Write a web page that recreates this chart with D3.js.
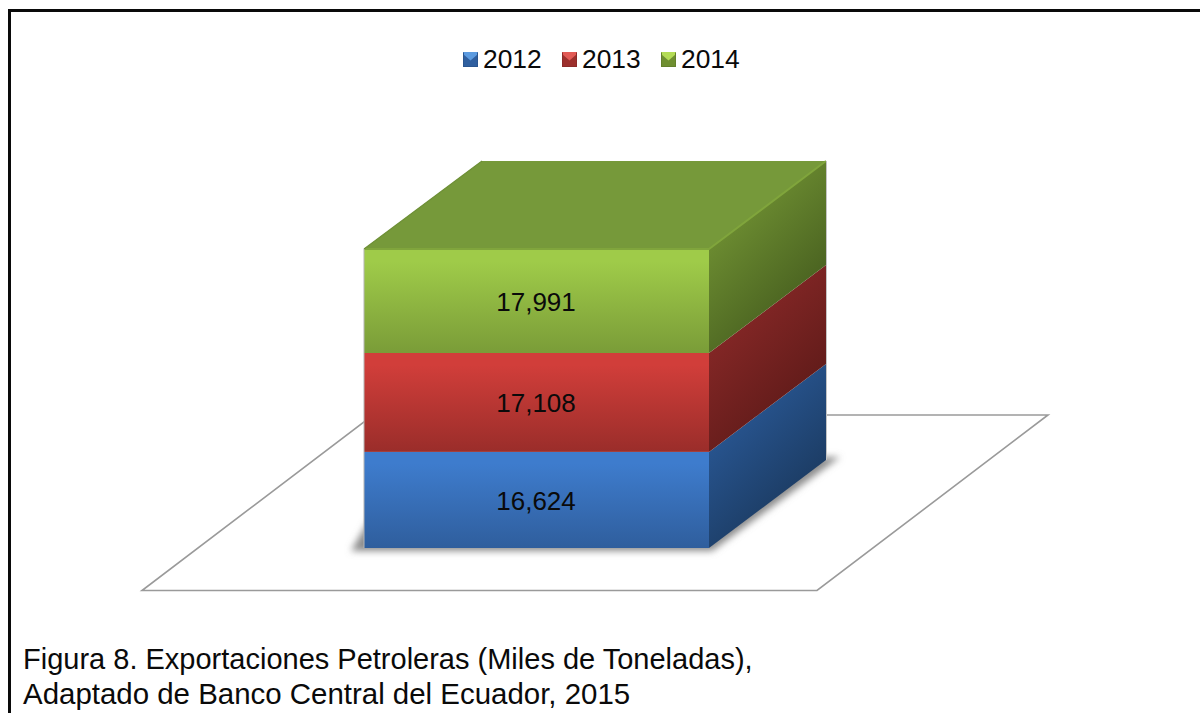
<!DOCTYPE html>
<html><head><meta charset="utf-8">
<script src="https://cdn.jsdelivr.net/npm/d3@7"></script>
<style>html,body{margin:0;padding:0;background:#fff}svg{display:block}text{font-family:"Liberation Sans",Arial,sans-serif;fill:#0a0a0a}</style>
</head><body><svg id="c" width="1200" height="713"></svg>
<script>
const categories = ["Exportaciones"];
const seriesNames = ["2012", "2013", "2014"];
const values2012 = [16624];
const values2013 = [17108];
const values2014 = [17991];
const captionLines = ["Figura 8. Exportaciones Petroleras (Miles de Toneladas),", "Adaptado de Banco Central del Ecuador, 2015"];
const captionSizes = [29, 29.45];
const frontColors = [["#3e7ccd", "#2f5e9d"], ["#d13e3a", "#9a2d2a"], ["#9fcb49", "#7a9c38"]];
const sideColors = [["#285590", "#193659"], ["#842726", "#5a1917"], ["#6c8c31", "#435a1d"]];
const topColor = "#76993a";
const swatchColors = [["#5c9be0", "#2f5f9f"], ["#e25a55", "#9c2f2c"], ["#b4dc55", "#6f8f30"]];

const rows = categories.map((c, i) => ({cat: c, 2012: values2012[i], 2013: values2013[i], 2014: values2014[i]}));
const stacked = d3.stack().keys(seriesNames)(rows);
const total = d3.max(stacked[stacked.length - 1], d => d[1]);

const x = d3.scaleBand().domain(categories).range([364, 709]).padding(0);
const y = d3.scaleLinear().domain([0, total]).range([548, 249]);
const dx = 117, dy = -88;

const svg = d3.select("#c");
const defs = svg.append("defs");
defs.append("filter").attr("id", "blur").attr("x", "-20%").attr("y", "-20%").attr("width", "140%").attr("height", "140%")
  .append("feGaussianBlur").attr("stdDeviation", 3.5);
seriesNames.forEach((s, i) => {
  const f = defs.append("linearGradient").attr("id", "front" + i).attr("x1", 0).attr("y1", 0).attr("x2", 0).attr("y2", 1);
  f.append("stop").attr("offset", "12%").attr("stop-color", frontColors[i][0]);
  f.append("stop").attr("offset", "100%").attr("stop-color", frontColors[i][1]);
  const g = defs.append("linearGradient").attr("id", "side" + i).attr("x1", 0.25).attr("y1", 0.1).attr("x2", 0.75).attr("y2", 0.9);
  g.append("stop").attr("offset", "15%").attr("stop-color", sideColors[i][0]);
  g.append("stop").attr("offset", "100%").attr("stop-color", sideColors[i][1]);
});

const pts = a => a.map(p => p.join(",")).join(" ");

// frame (left and top edges only)
svg.append("path").attr("d", "M9.5,713V10.5H1200").attr("fill", "none").attr("stroke", "#0a0a0a").attr("stroke-width", 3);

// floor
svg.append("polygon").attr("points", pts([[142, 590.5], [817, 590.5], [1048, 415], [373, 415]]))
  .attr("fill", "#fff").attr("stroke", "#9a9a9a").attr("stroke-width", 1.6);

const xL = x(categories[0]), xR = xL + x.bandwidth(), y0 = y(0);

// shadow on the floor
svg.append("polygon").attr("points", pts([[351, y0 + 3], [xR + 3, y0 + 3], [xR + dx + 14, y0 + dy - 3], [xL + 40, y0 + dy]]))
  .attr("fill", "#8c8c8c").attr("filter", "url(#blur)");

const layers = svg.append("g").selectAll("g").data(stacked).join("g");
layers.each(function(s, i) {
  const d = s[0], g = d3.select(this), yb = y(d[0]), yt = y(d[1]);
  g.append("polygon").attr("points", pts([[xR, yb], [xR + dx, yb + dy], [xR + dx, yt + dy], [xR, yt]]))
    .attr("fill", `url(#side${i})`);
  g.append("rect").attr("x", xL).attr("y", yt).attr("width", xR - xL).attr("height", yb - yt)
    .attr("fill", `url(#front${i})`);
  if (i === stacked.length - 1) {
    g.append("polygon").attr("points", pts([[xL, yt], [xR, yt], [xR + dx, yt + dy], [xL + dx + 1, yt + dy]]))
      .attr("fill", topColor);
    // bevels along the upper edges
    g.append("path").attr("d", `M${xL},${yt}H${xR}L${xR + dx},${yt + dy}`).attr("fill", "none")
      .attr("stroke", "#80a53c").attr("stroke-width", 2);
    g.append("path").attr("d", `M${xL},${yt}L${xL + dx + 1},${yt + dy}`).attr("fill", "none")
      .attr("stroke", "#6d8f35").attr("stroke-width", 1.2);
  }
});
// thin light edge on the left and right of the box
svg.append("path").attr("d", `M${xL},${y(total)}V${y0}`).attr("stroke", "#b5b5b5").attr("stroke-width", 1).attr("fill", "none");
svg.append("path").attr("d", `M${xR + dx + 0.5},${y(total) + dy}V${y0 + dy}`).attr("stroke", "#c4c4c4").attr("stroke-width", 1).attr("fill", "none");

// value labels
svg.append("g").selectAll("text").data(stacked).join("text")
  .attr("x", x(categories[0]) + x.bandwidth() / 2 - 0.5)
  .attr("y", s => (y(s[0][0]) + y(s[0][1])) / 2 + 10)
  .attr("text-anchor", "middle").attr("font-size", 26)
  .text(s => d3.format(",")(s[0][1] - s[0][0]));

// legend
const legX = d3.scalePoint().domain(seriesNames).range([463, 661]);
const leg = svg.append("g").selectAll("g").data(seriesNames).join("g")
  .attr("transform", d => `translate(${legX(d)},52)`);
leg.append("rect").attr("width", 15).attr("height", 15).attr("fill", (d, i) => swatchColors[i][1]);
leg.append("polygon").attr("points", pts([[0, 0], [15, 0], [15, 2], [7.5, 8.5], [0, 2]])).attr("fill", (d, i) => swatchColors[i][0]);
leg.append("path").attr("d", "M0.5,14.5V0.5M14.5,0.5V14.5H0.5").attr("fill", "none").attr("stroke", (d, i) => d3.color(swatchColors[i][1]).darker(0.3)).attr("stroke-width", 1);
leg.append("text").attr("x", 20).attr("y", 16).attr("font-size", 26.4).text(d => d);

// caption
svg.append("g").selectAll("text").data(captionLines).join("text")
  .attr("x", 23).attr("y", (d, i) => 669 + i * 35).attr("font-size", (d, i) => captionSizes[i]).text(d => d);
</script></body></html>
